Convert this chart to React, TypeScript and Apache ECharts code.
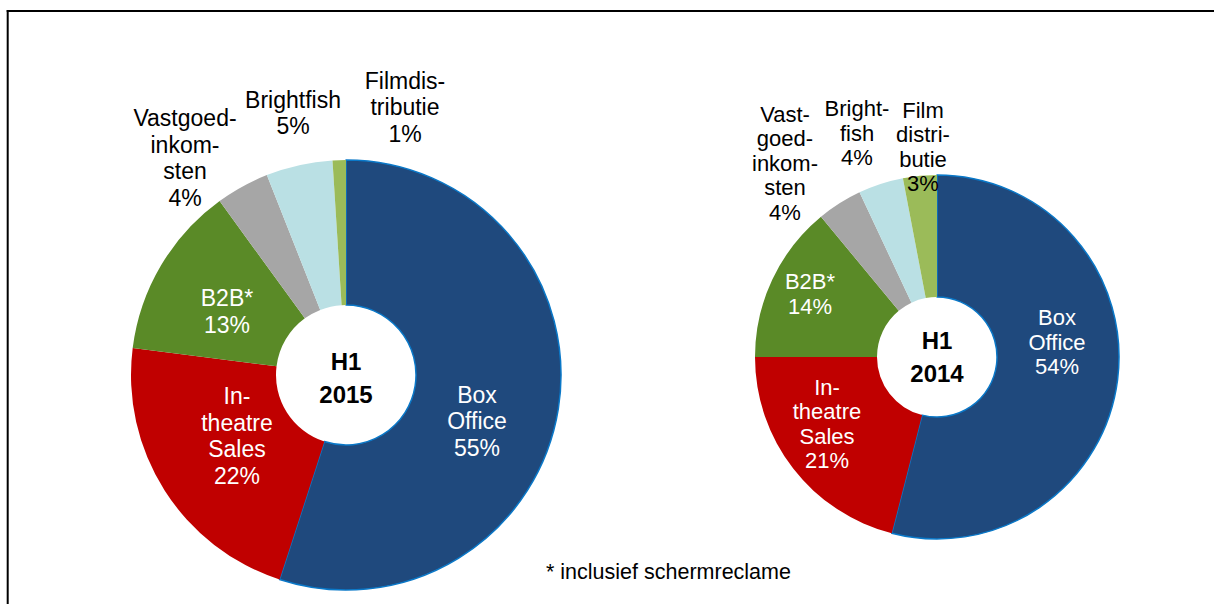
import React, { useEffect, useRef } from "react";
import * as echarts from "echarts";

// ---- data ----
const categories = ["Box Office", "In-theatre Sales", "B2B*", "Vastgoedinkomsten", "Brightfish", "Filmdistributie"];
const values2015 = [55, 22, 13, 4, 5, 1];
const values2014 = [54, 21, 14, 4, 4, 3];
const labels2015 = ["Box\nOffice", "In-\ntheatre\nSales", "B2B*", "Vastgoed-\ninkom-\nsten", "Brightfish", "Filmdis-\ntributie"];
const labels2014 = ["Box\nOffice", "In-\ntheatre\nSales", "B2B*", "Vast-\ngoed-\ninkom-\nsten", "Bright-\nfish", "Film\ndistri-\nbutie"];
const periodTitles = ["H1\n2015", "H1\n2014"];
const footnote = "* inclusief schermreclame";

// ---- styles / layout ----
const colors = ["#1F497D", "#C00000", "#5A8A27", "#A6A6A6", "#BAE0E4", "#9BBB59"];
const labelColors = ["#FFFFFF", "#FFFFFF", "#FFFFFF", "#000000", "#000000", "#000000"];
const FONT = "'Liberation Sans', Arial, sans-serif";

const pieGeom = [
  { center: [346, 375], radius: [70, 215], fontSize: 23, lineHeight: 26.5 },
  { center: [937, 357], radius: [60, 182], fontSize: 22, lineHeight: 24.5 },
];
// label anchor (centre of label block), pixel positions
const labelPos = [
  [[477, 421], [237, 436], [227, 311.5], [185, 158], [293, 113], [405, 107]],
  [[1057, 342], [827, 424], [810, 294], [785, 163], [857, 133], [923, 147]],
];

function buildSeries(idx: number, values: number[], labels: string[]) {
  const g = pieGeom[idx];
  return {
    type: "pie",
    center: g.center,
    radius: g.radius,
    startAngle: 90,
    clockwise: true,
    avoidLabelOverlap: false,
    silent: true,
    emphasis: { disabled: true },
    label: {
      show: true,
      position: "inside",
      fontFamily: FONT,
      fontSize: g.fontSize,
      lineHeight: g.lineHeight,
      align: "center",
    },
    labelLine: { show: false },
    labelLayout: (p: any) => {
      const pos = labelPos[idx][p.dataIndex];
      return { x: pos[0], y: pos[1], align: "center", verticalAlign: "middle" };
    },
    data: categories.map((name, i) => ({
      name,
      value: values[i],
      itemStyle:
        i === 0
          ? { color: colors[i], borderColor: "#0A78C8", borderWidth: 1.5 }
          : { color: colors[i], borderWidth: 0 },
      label: {
        color: labelColors[i],
        formatter: () => `${labels[i]}\n${values[i]}%`,
      },
    })),
  };
}

export default function App() {
  const ref = useRef<HTMLDivElement>(null);
  useEffect(() => {
    if (!ref.current) return;
    const chart = echarts.init(ref.current, undefined, { renderer: "svg" });
    chart.setOption({
      animation: false,
      backgroundColor: "#FFFFFF",
      series: [buildSeries(0, values2015, labels2015), buildSeries(1, values2014, labels2014)],
      graphic: [
        { type: "line", shape: { x1: 6.7, y1: 11, x2: 1214, y2: 11 }, style: { stroke: "#000", lineWidth: 2 } },
        { type: "line", shape: { x1: 7.7, y1: 10, x2: 7.7, y2: 604 }, style: { stroke: "#000", lineWidth: 2 } },
        {
          type: "text",
          x: 346,
          y: 378,
          style: {
            text: periodTitles[0],
            fill: "#000",
            font: `bold 24px ${FONT}`,
            lineHeight: 33,
            align: "center",
            verticalAlign: "middle",
          },
        },
        {
          type: "text",
          x: 937,
          y: 357,
          style: {
            text: periodTitles[1],
            fill: "#000",
            font: `bold 24px ${FONT}`,
            lineHeight: 33,
            align: "center",
            verticalAlign: "middle",
          },
        },
        {
          type: "text",
          x: 546,
          y: 572,
          style: {
            text: footnote,
            fill: "#000",
            font: `21.5px ${FONT}`,
            align: "left",
            verticalAlign: "middle",
          },
        },
      ],
    });
    return () => chart.dispose();
  }, []);
  return (
    <div
      ref={ref}
      style={{ position: "fixed", left: 0, top: 0, width: 1214, height: 604, background: "#fff" }}
    />
  );
}
